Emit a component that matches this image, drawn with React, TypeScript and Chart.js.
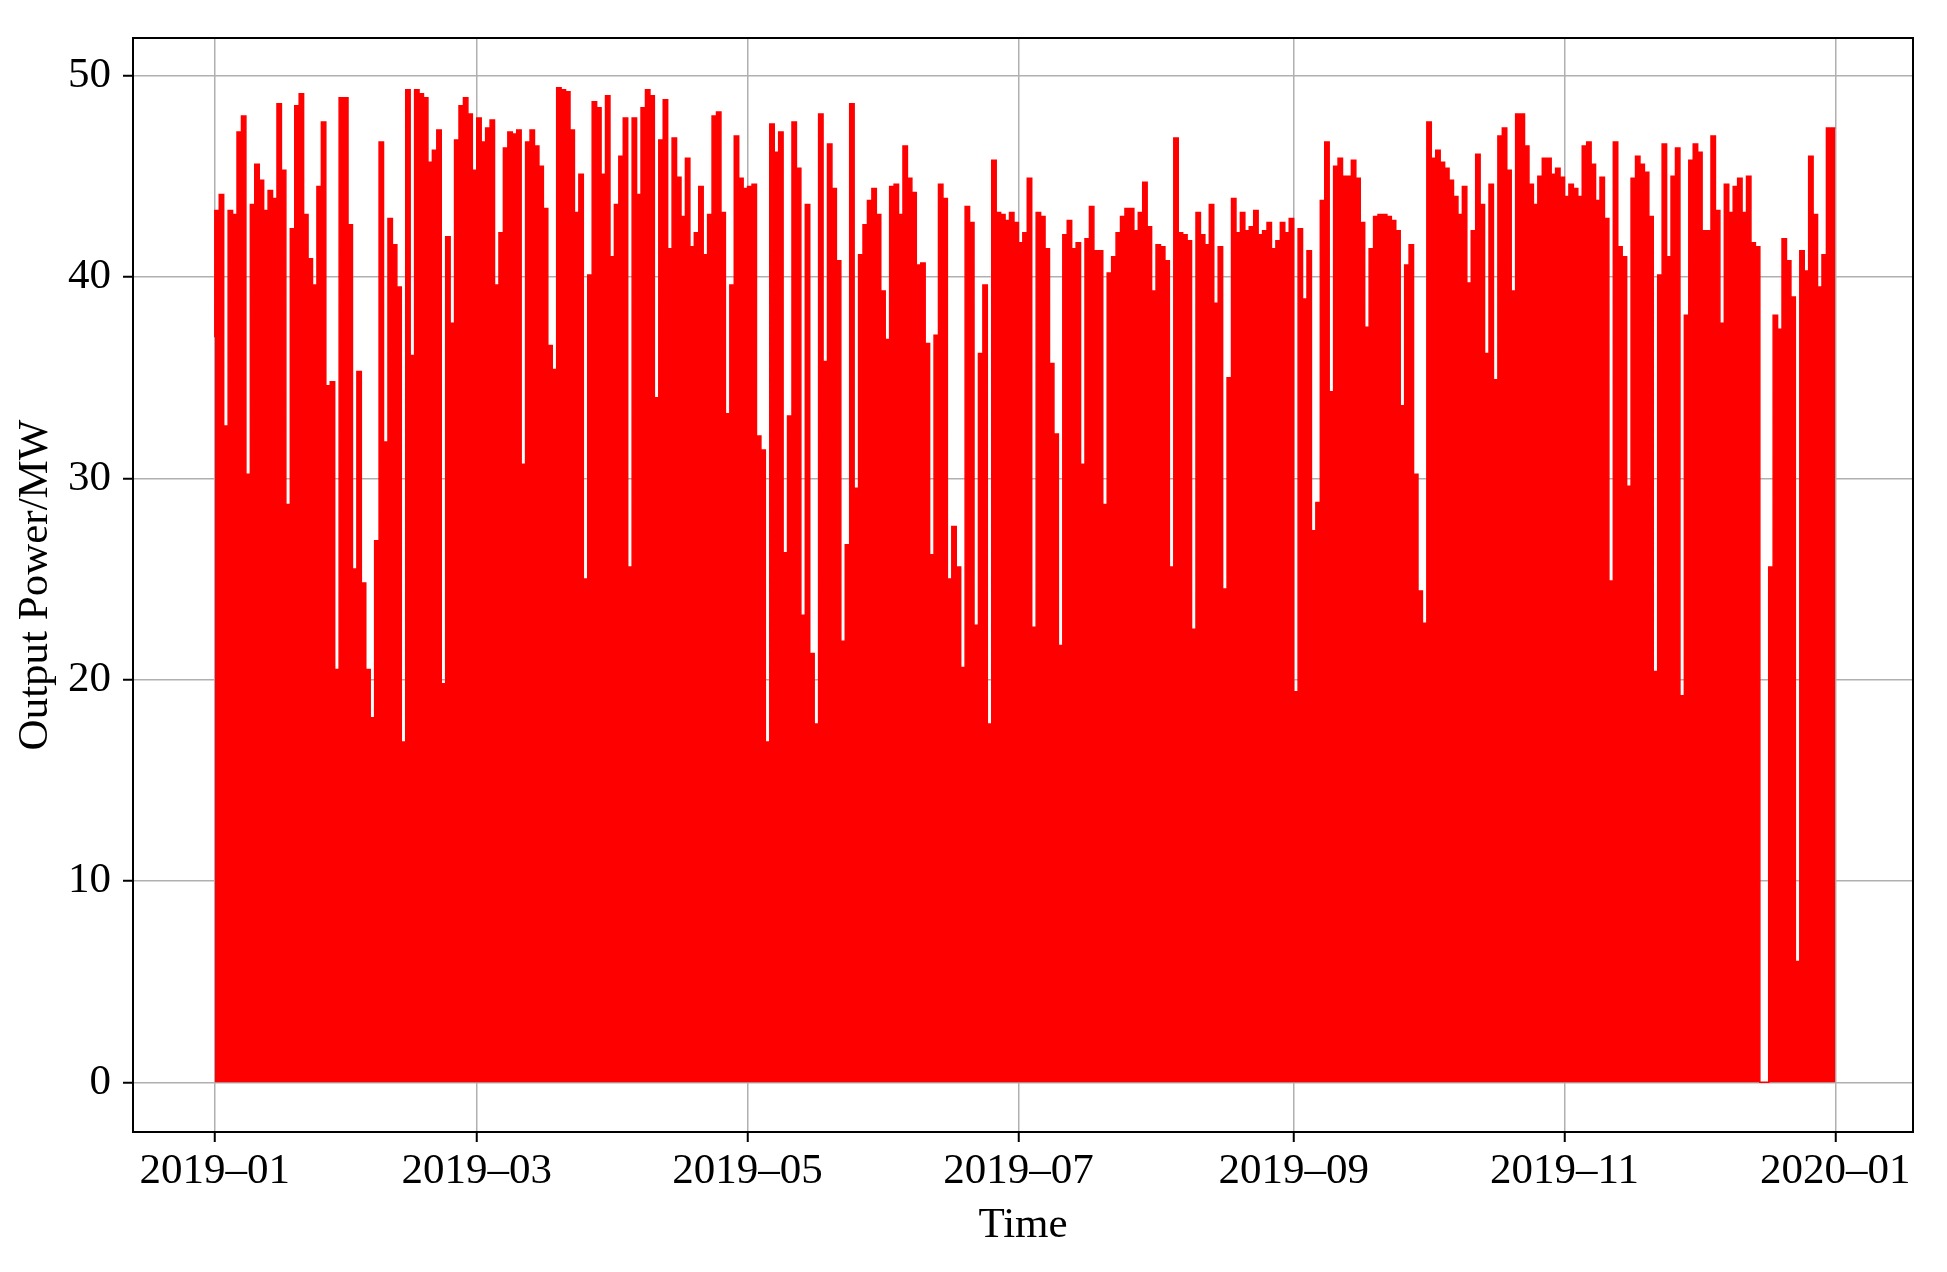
import React, { useEffect, useRef } from "react";
import { Chart, registerables } from "chart.js";

Chart.register(...registerables);

// Daily peak output (MW), 2019-01-01 .. 2019-12-31
const peaksJanFeb = [
  37.0, 43.3, 44.1, 32.6, 43.3, 43.1, 47.2, 48.0, 30.2, 43.6, 45.6, 44.8, 43.3, 44.3, 43.9, 48.6, 45.3, 28.7,
  42.4, 48.5, 49.1, 43.1, 40.9, 39.6, 44.5, 47.7, 34.6, 34.8, 20.5, 48.9, 48.9, 42.6, 25.5, 35.3, 24.8, 20.5,
  18.1, 26.9, 46.7, 31.8, 42.9, 41.6, 39.5, 16.9, 49.3, 36.1, 49.3, 49.1, 48.9, 45.7, 46.3, 47.3, 19.8, 42.0,
  37.7, 46.8, 48.5, 48.9, 48.1,
];
const peaksMarApr = [
  45.3, 47.9, 46.7, 47.4, 47.8, 39.6, 42.2, 46.4, 47.2, 47.1, 47.3, 30.7, 46.7, 47.3,
  46.5, 45.5, 43.4, 36.6, 35.4, 49.4, 49.3, 49.2, 47.3, 43.2, 45.1, 25.0, 40.1, 48.7, 48.4, 45.1, 49.0, 41.0,
  43.6, 46.0, 47.9, 25.6, 47.9, 44.1, 48.4, 49.3, 49.0, 34.0, 46.8, 48.8, 41.4, 46.9, 44.95, 43.0, 45.9, 41.5,
  42.2, 44.5, 41.1, 43.1, 48.0, 48.2, 43.2, 33.2, 39.6, 47.0, 44.9,
];
const peaksMayJun = [
  44.4, 44.5, 44.6, 32.1, 31.4, 16.9, 47.6, 46.2, 47.2, 26.3, 33.1, 47.7, 45.4, 23.2, 43.6, 21.3, 17.8, 48.1,
  35.8, 46.6, 44.4, 40.8, 21.9, 26.7, 48.6, 29.5, 41.1,
  42.6, 43.8, 44.4, 43.1, 39.3, 36.9, 44.5, 44.6, 43.1, 46.5, 44.9, 44.2, 40.6, 40.7, 36.7, 26.2, 37.1, 44.6,
  43.9, 25.0, 27.6, 25.6, 20.6, 43.5, 42.7, 22.7, 36.2, 39.6, 17.8, 45.8, 43.2, 43.1, 42.8, 43.2,
];
const peaksJulAug = [
  42.7, 41.7, 42.2,
  44.9, 22.6, 43.2, 43.0, 41.4, 35.7, 32.2, 21.7, 42.1, 42.8, 41.4, 41.7, 30.7, 41.9, 43.5, 41.3, 41.3, 28.7,
  40.2, 41.0, 42.2, 43.0, 43.4, 43.4, 42.3, 43.2, 44.7, 42.5, 39.3, 41.6, 41.5, 40.8, 25.6, 46.9, 42.2, 42.1,
  41.8, 22.5, 43.2, 42.1, 41.6, 43.6, 38.7, 41.5, 24.5, 35.0, 43.9, 42.2, 43.2, 42.3, 42.5, 43.3, 42.1, 42.3,
  42.7, 41.4, 41.8, 42.7, 42.2,
];
const peaksSepOct = [
  42.9, 19.4, 42.4, 38.9, 41.3, 27.4, 28.8, 43.8, 46.7, 34.3, 45.5, 45.9, 45.0, 45.0, 45.8,
  44.9, 42.7, 37.5, 41.4, 43.0, 43.1, 43.1, 43.0, 42.8, 42.3, 33.6, 40.6, 41.6, 30.2, 24.4, 22.8, 47.7, 45.9,
  46.3, 45.7, 45.4, 44.8, 44.0, 43.1, 44.5, 39.7, 42.3, 46.1, 43.6, 36.2, 44.6, 34.9, 47.0, 47.4, 45.3, 39.3,
  48.1, 48.1, 46.5, 44.6, 43.6, 45.0, 45.9, 45.9, 45.1, 45.4,
];
const peaksNovDec = [
  44.95, 44.0, 44.6, 44.4, 44.0, 46.5, 46.7, 45.6, 43.8, 44.95, 42.9, 24.9, 46.7, 41.5, 41.0, 29.6, 44.9, 46.0,
  45.6, 45.2, 43.0, 20.4, 40.1, 46.6, 41.0, 45.0, 46.4, 19.2, 38.1,
  45.8, 46.6, 46.2, 42.3, 42.3, 47.0, 43.3, 37.7, 44.6, 43.2, 44.5, 44.9, 43.2, 45.0, 41.7, 41.5, 0.0, 0.0,
  25.6, 38.1, 37.4, 41.9, 40.8, 39.0, 6.0, 41.3, 40.3, 46.0, 43.1, 39.5, 41.1, 47.4,
];

const dailyPeak = [
  ...peaksJanFeb,
  ...peaksMarApr,
  ...peaksMayJun,
  ...peaksJulAug,
  ...peaksSepOct,
  ...peaksNovDec,
];

const monthTickDays = [0, 59, 120, 181, 243, 304, 365];
const monthTickLabels = ["2019–01", "2019–03", "2019–05", "2019–07", "2019–09", "2019–11", "2020–01"];
const yTickValues = [0, 10, 20, 30, 40, 50];

const FONT = "'Liberation Serif', 'Times New Roman', serif";

const spinesPlugin = {
  id: "spines",
  afterDraw(chart: any) {
    const { ctx, chartArea: a } = chart;
    ctx.save();
    ctx.strokeStyle = "#000";
    ctx.lineWidth = 2;
    ctx.strokeRect(a.left, a.top, a.right - a.left, a.bottom - a.top);
    ctx.restore();
  },
};

export default function App() {
  const ref = useRef<HTMLCanvasElement | null>(null);

  useEffect(() => {
    if (!ref.current) return;
    const points = dailyPeak.map((v, i) => ({ x: i, y: v }));
    points.push({ x: dailyPeak.length, y: dailyPeak[dailyPeak.length - 1] });

    const chart = new Chart(ref.current, {
      type: "line",
      data: {
        datasets: [
          {
            data: points,
            borderColor: "#ff0000",
            backgroundColor: "#ff0000",
            borderWidth: 1.5,
            pointRadius: 0,
            stepped: "after",
            fill: "origin",
          },
        ],
      },
      plugins: [spinesPlugin],
      options: {
        animation: false,
        responsive: false,
        devicePixelRatio: 1,
        layout: { padding: { top: 38, right: 34, left: 0, bottom: 0 } },
        plugins: { legend: { display: false }, tooltip: { enabled: false } },
        scales: {
          x: {
            type: "linear",
            min: -18.43,
            max: 382.5,
            afterFit: (s: any) => {
              s.height = 140;
            },
            afterBuildTicks: (s: any) => {
              s.ticks = monthTickDays.map((v) => ({ value: v }));
            },
            ticks: {
              autoSkip: false,
              maxRotation: 0,
              padding: 4,
              color: "#000",
              font: { family: FONT, size: 43 },
              callback: (v: any) => {
                const idx = monthTickDays.indexOf(Number(v));
                return idx >= 0 ? monthTickLabels[idx] : "";
              },
            },
            grid: {
              color: "#b0b0b0",
              lineWidth: 1.5,
              tickColor: "#000",
              tickLength: 10,
              tickWidth: 2,
            },
            border: { display: false },
            title: {
              display: true,
              text: "Time",
              color: "#000",
              font: { family: FONT, size: 43 },
              padding: { top: 0, bottom: 20 },
            },
          },
          y: {
            type: "linear",
            min: -2.47,
            max: 51.87,
            afterFit: (s: any) => {
              s.width = 133;
            },
            afterBuildTicks: (s: any) => {
              s.ticks = yTickValues.map((v) => ({ value: v }));
            },
            ticks: {
              padding: 12,
              color: "#000",
              font: { family: FONT, size: 43 },
            },
            grid: {
              color: "#b0b0b0",
              lineWidth: 1.5,
              tickColor: "#000",
              tickLength: 10,
              tickWidth: 2,
            },
            border: { display: false },
            title: {
              display: true,
              text: "Output Power/MW",
              color: "#000",
              font: { family: FONT, size: 43 },
              padding: { top: 10, bottom: 0 },
            },
          },
        },
      },
    });
    return () => chart.destroy();
  }, []);

  return (
    <div style={{ position: "absolute", left: 0, top: 0, width: 1947, height: 1272, background: "#fff" }}>
      <canvas ref={ref} width={1947} height={1272} style={{ display: "block" }} />
    </div>
  );
}
